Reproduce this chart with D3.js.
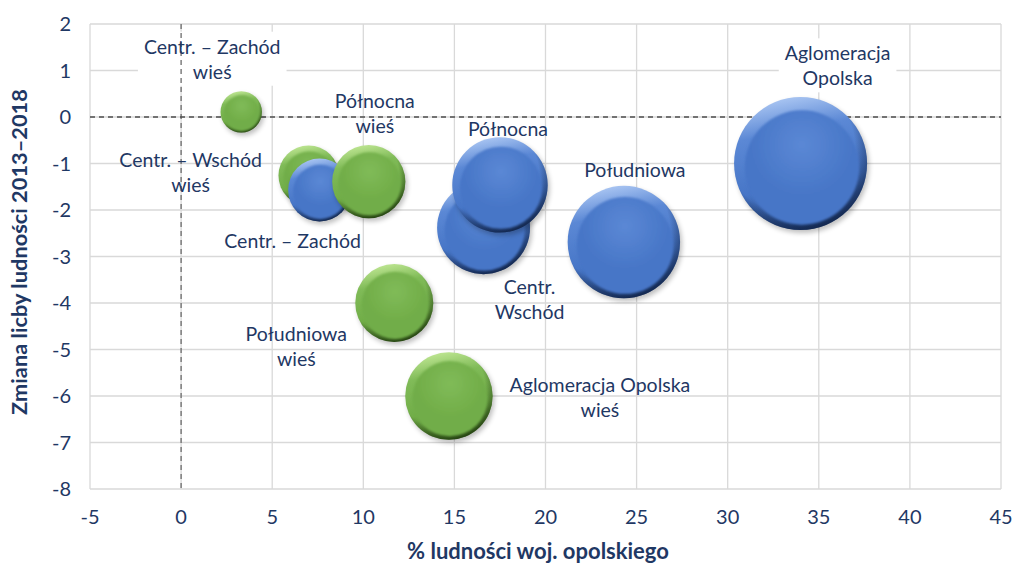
<!DOCTYPE html>
<html>
<head>
<meta charset="utf-8">
<script src="https://cdn.jsdelivr.net/npm/d3@7"></script>
<style>
  body { margin: 0; background: #fff; }
  svg { display: block; }
  text { font-family: Lato, "Open Sans", sans-serif; }
</style>
</head>
<body>
<svg id="chart" width="1013" height="566"></svg>
<script>
// ---- data -------------------------------------------------------------
// Subregions (blue) and their rural parts (green):
// x = share of the voivodeship population (%), y = population change 2013–2018 (%),
// bubble size = share of population.
const blueNames  = ["Aglomeracja\nOpolska", "Południowa", "Północna", "Centr.\nWschód", "Centr. – Zachód"];
const blueX      = [34.0, 24.3, 17.5, 16.6, 7.6];
const blueY      = [-1.0, -2.69, -1.46, -2.38, -1.57];
const blueSize   = [34.0, 24.3, 17.5, 16.6, 7.6];

const greenNames = ["Centr. – Zachód\nwieś", "Centr. – Wschód\nwieś", "Północna\nwieś", "Południowa\nwieś", "Aglomeracja Opolska\nwieś"];
const greenX     = [3.3, 7.0, 10.3, 11.7, 14.7];
const greenY     = [0.11, -1.26, -1.39, -4.0, -6.0];
const greenSize  = [3.3, 7.0, 10.3, 11.7, 14.7];

const xTicks = [-5, 0, 5, 10, 15, 20, 25, 30, 35, 40, 45];
const yTicks = [2, 1, 0, -1, -2, -3, -4, -5, -6, -7, -8];

const xTitle = "% ludności woj. opolskiego";
const yTitle = "Zmiana licby ludności 2013–2018";

// ---- layout -----------------------------------------------------------
// label placement: offset (px) of the first text line from the bubble centre,
// plus whether the label sits on a white box
const blueLabelNudge  = [[37, -110, true], [11, -72, false], [8, -56, false], [46, 60, false], [-27, 51, false]];
const greenLabelNudge = [[-29, -65, true], [-118, -15, false], [6, -80, false], [-98, 31, false], [151, -11, false]];

const plot = { left: 90, right: 1001, top: 24, bottom: 489 };
const navy = "#1f3864";
const palette = {
  blue:  { base: "#4776c7", light: "#a9c5f2", mid: "#5b88d5", dark: "#203d73", edge: "#0b1a38" },
  green: { base: "#71ad48", light: "#bde591", mid: "#80bb58", dark: "#3b631f", edge: "#18300a" }
};

const svg = d3.select("#chart");
const x = d3.scaleLinear().domain([-5, 45]).range([plot.left, plot.right]);
const y = d3.scaleLinear().domain([-8, 2]).range([plot.bottom, plot.top]);
const r = d3.scaleSqrt().domain([0, d3.max(blueSize.concat(greenSize))]).range([0, 66.5]);

// ---- gradients & filters ---------------------------------------------
const defs = svg.append("defs");
Object.entries(palette).forEach(([key, c]) => {
  const rim = defs.append("linearGradient").attr("id", "rim-" + key)
    .attr("x1", 0.4).attr("y1", 0).attr("x2", 0.6).attr("y2", 1);
  rim.append("stop").attr("offset", "0%").attr("stop-color", c.light);
  rim.append("stop").attr("offset", "25%").attr("stop-color", c.mid);
  rim.append("stop").attr("offset", "65%").attr("stop-color", c.base);
  rim.append("stop").attr("offset", "100%").attr("stop-color", c.dark);

  const edge = defs.append("radialGradient").attr("id", "edge-" + key)
    .attr("cx", "42%").attr("cy", "38%").attr("r", "66%");
  edge.append("stop").attr("offset", "74%").attr("stop-color", c.edge).attr("stop-opacity", 0);
  edge.append("stop").attr("offset", "100%").attr("stop-color", c.edge).attr("stop-opacity", 0.7);

  const face = defs.append("radialGradient").attr("id", "face-" + key)
    .attr("cx", "50%").attr("cy", "30%").attr("r", "75%");
  face.append("stop").attr("offset", "0%").attr("stop-color", c.mid);
  face.append("stop").attr("offset", "60%").attr("stop-color", c.base);
  face.append("stop").attr("offset", "100%").attr("stop-color", c.base);
});
defs.append("filter").attr("id", "soft").attr("x", "-20%").attr("y", "-20%").attr("width", "140%").attr("height", "140%")
  .append("feGaussianBlur").attr("stdDeviation", 1.1);
defs.append("filter").attr("id", "shadow").attr("x", "-30%").attr("y", "-30%").attr("width", "160%").attr("height", "160%")
  .append("feGaussianBlur").attr("stdDeviation", 2.5);

// ---- grid -------------------------------------------------------------
const grid = svg.append("g");
grid.selectAll("line.vx").data(xTicks).join("line")
  .attr("x1", d => x(d)).attr("x2", d => x(d))
  .attr("y1", plot.top).attr("y2", plot.bottom)
  .attr("stroke", "#d9d9d9").attr("stroke-width", 1.3);
grid.selectAll("line.hy").data(yTicks).join("line")
  .attr("x1", plot.left).attr("x2", plot.right)
  .attr("y1", d => y(d)).attr("y2", d => y(d))
  .attr("stroke", "#d9d9d9").attr("stroke-width", 1.3);

// ---- bubbles + labels data -------------------------------------------
function series(key, names, xs, ys, sizes, nudge) {
  return names.map((n, i) => ({ key, name: n, x: xs[i], y: ys[i], size: sizes[i],
    dx: nudge[i][0], dy: nudge[i][1], box: nudge[i][2] }));
}
const points = series("blue", blueNames, blueX, blueY, blueSize, blueLabelNudge)
  .concat(series("green", greenNames, greenX, greenY, greenSize, greenLabelNudge));

const fontSize = 19.5, lineGap = 25;

const labelLayer = svg.append("g");
const labels = labelLayer.selectAll("g").data(points).join("g")
  .attr("transform", d => `translate(${x(d.x) + d.dx},${y(d.y) + d.dy})`);
const texts = labels.append("text")
  .attr("text-anchor", "middle")
  .attr("font-size", fontSize)
  .attr("fill", navy);
texts.selectAll("tspan").data(d => d.name.split("\n")).join("tspan")
  .attr("x", 0).attr("y", (d, i) => i * lineGap).attr("dy", "0.35em").text(d => d);

// white boxes behind selected labels
const boxLayer = svg.insert("g", () => labelLayer.node());
labels.each(function (d) {
  if (!d.box) return;
  const bb = this.getBBox();
  const t = d3.select(this).attr("transform");
  boxLayer.append("rect").attr("transform", t)
    .attr("x", bb.x - 6).attr("y", bb.y - 3).attr("width", bb.width + 12).attr("height", bb.height + 6)
    .attr("fill", "#fff");
});

// dashed reference lines through 0
const ref = svg.insert("g", () => labelLayer.node());
ref.append("line").attr("x1", x(0)).attr("x2", x(0)).attr("y1", plot.top).attr("y2", plot.bottom)
  .attr("stroke", "#6b6b6b").attr("stroke-width", 1.3).attr("stroke-dasharray", "5,4");
ref.append("line").attr("x1", plot.left).attr("x2", plot.right).attr("y1", y(0)).attr("y2", y(0))
  .attr("stroke", "#4d4d4d").attr("stroke-width", 1.3).attr("stroke-dasharray", "5,4");

// bubbles, smaller ones behind larger ones
const bubbleLayer = svg.insert("g", () => labelLayer.node());
const sorted = points.slice().sort((a, b) => a.size - b.size);
const b = bubbleLayer.selectAll("g").data(sorted).join("g")
  .attr("transform", d => `translate(${x(d.x)},${y(d.y)})`);
b.append("circle").attr("cx", 2).attr("cy", 3).attr("r", d => r(d.size))
  .attr("fill", "#000").attr("opacity", 0.25).attr("filter", "url(#shadow)");
b.append("circle").attr("r", d => r(d.size)).attr("fill", d => `url(#rim-${d.key})`);
b.append("circle").attr("r", d => r(d.size)).attr("fill", d => `url(#edge-${d.key})`);
b.append("circle")
  .attr("cx", d => r(d.size) * 0.02).attr("cy", d => r(d.size) * 0.06)
  .attr("r", d => r(d.size) * 0.86)
  .attr("fill", d => `url(#face-${d.key})`).attr("filter", "url(#soft)");

// ---- axis tick labels ---------------------------------------------------
svg.append("g").selectAll("text").data(xTicks).join("text")
  .attr("x", d => x(d)).attr("y", 517).attr("dy", "0.35em")
  .attr("text-anchor", "middle").attr("font-size", 20).attr("fill", navy)
  .text(d => d);
svg.append("g").selectAll("text").data(yTicks).join("text")
  .attr("x", 71).attr("y", d => y(d)).attr("dy", "0.35em")
  .attr("text-anchor", "end").attr("font-size", 20).attr("fill", navy)
  .text(d => d);

// ---- axis titles ---------------------------------------------------------
svg.append("text").attr("x", 538).attr("y", 551).attr("dy", "0.35em")
  .attr("text-anchor", "middle").attr("font-size", 22).attr("font-weight", "bold").attr("fill", navy)
  .text(xTitle);
svg.append("text").attr("transform", "translate(19,252) rotate(-90)").attr("dy", "0.35em")
  .attr("text-anchor", "middle").attr("font-size", 21.8).attr("font-weight", "bold").attr("fill", navy)
  .text(yTitle);
</script>
</body>
</html>
